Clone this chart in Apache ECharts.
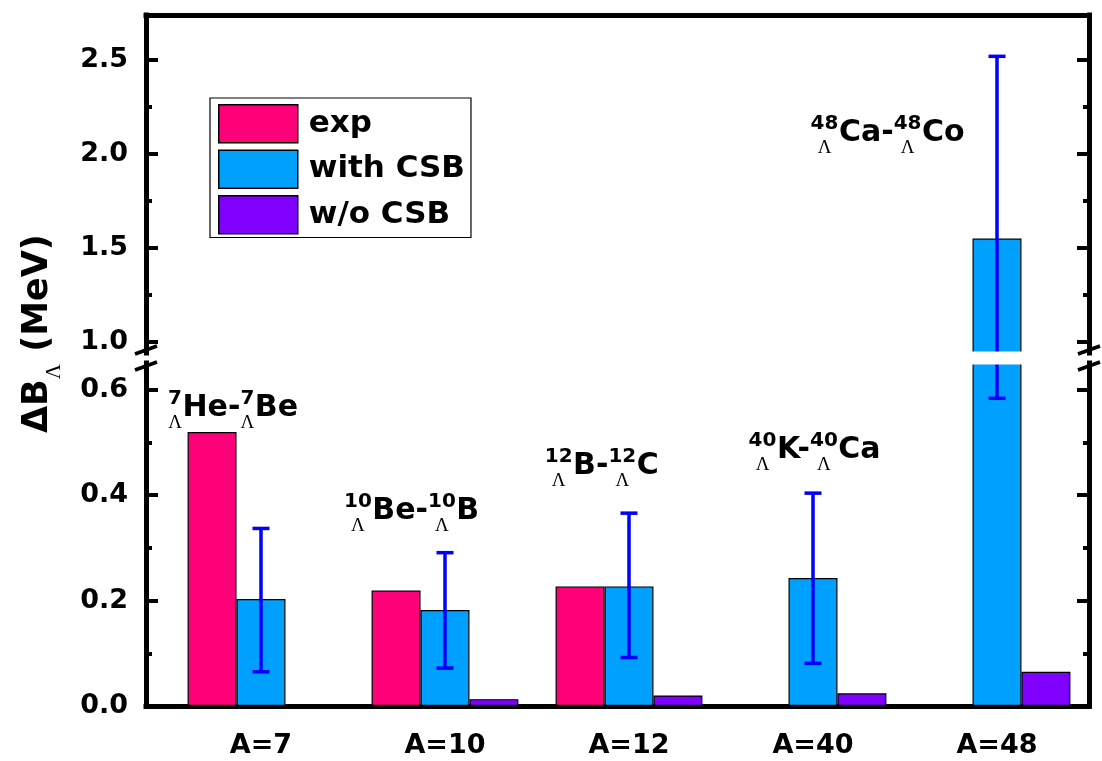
<!DOCTYPE html>
<html>
<head>
<meta charset="utf-8">
<script src="https://cdn.jsdelivr.net/npm/echarts@6/dist/echarts.min.js"></script>
<style>
  html, body { margin: 0; padding: 0; background: #fff; }
  #chart { width: 1102px; height: 761px; }
</style>
</head>
<body>
<div id="chart"></div>
<script>
// ---- data -------------------------------------------------------------
const categories = ['A=7', 'A=10', 'A=12', 'A=40', 'A=48'];
const catPos = [1, 2, 3, 4, 5];

// ΔB_Λ in MeV
const expValues      = [0.520, 0.219, 0.227, null, null];
const withCsbValues  = [0.203, 0.182, 0.227, 0.243, 1.55];
const withCsbErrLow  = [0.065, 0.072, 0.092, 0.081, 0.584];
const withCsbErrHigh = [0.337, 0.291, 0.366, 0.404, 2.52];
const woCsbValues    = [null, 0.013, 0.020, 0.024, 0.065];

// mirror-pair labels: ^A_Λ Left - ^A_Λ Right, anchored (left, baseline) in data units
const pairMass   = ['7', '10', '12', '40', '48'];
const pairLeft   = ['He', 'Be', 'B', 'K', 'Ca'];
const pairRight  = ['Be', 'B', 'C', 'Ca', 'Co'];
const pairLabelX = [0.495, 1.451, 2.542, 3.650, 3.987];
const pairLabelY = [0.547, 0.351, 0.437, 0.467, 2.058];

// broken y axis: lower and upper segments
const lowerRange = [0, 0.651];
const upperRange = [0.941, 2.74];
const lowerTicks = [0, 0.2, 0.4, 0.6];
const lowerMinor = [0.1, 0.3, 0.5];
const upperTicks = [1.0, 1.5, 2.0, 2.5];
const upperMinor = [1.25, 1.75, 2.25];
const xRange = [0.375, 5.5];

// ---- style ------------------------------------------------------------
const FONT = 'DejaVu Sans';
const SERIF = 'Liberation Serif';
const COLORS = { exp: '#ff0078', withCsb: '#00a0ff', woCsb: '#7f00ff', err: '#0000ff' };
const GRID_LEFT = 146, GRID_RIGHT = 13, GRID_GAP = 10;
const UPPER_TOP = 15, UPPER_H = 338, LOWER_BOTTOM = 55;
const AXIS_W = 5;

const measureCtx = document.createElement('canvas').getContext('2d');
function textWidth(text, size, family, weight) {
  measureCtx.font = (weight || 'normal') + ' ' + size + 'px "' + family + '"';
  return measureCtx.measureText(text).width;
}

// ---- axes -------------------------------------------------------------
function yAxisPair(grid, range, ticks, minor, side, withLabels) {
  const base = {
    type: 'value', gridIndex: grid, position: side,
    min: range[0], max: range[1],
    splitLine: { show: false }
  };
  const major = Object.assign({}, base, {
    axisLine: { show: true, lineStyle: { color: '#000', width: AXIS_W, cap: 'square' } },
    axisTick: { show: true, inside: true, length: 12, customValues: ticks,
                lineStyle: { color: '#000', width: 4 } },
    axisLabel: {
      show: withLabels, customValues: ticks, margin: 18,
      formatter: v => Number(v).toFixed(1),
      fontFamily: FONT, fontWeight: 'bold', fontSize: 27, color: '#000'
    }
  });
  const minorAxis = Object.assign({}, base, {
    axisLine: { show: false },
    axisTick: { show: true, inside: true, length: 6, customValues: minor,
                lineStyle: { color: '#000', width: 4 } },
    axisLabel: { show: false }
  });
  return [major, minorAxis];
}

const yAxes = [].concat(
  yAxisPair(0, upperRange, upperTicks, upperMinor, 'left', true),   // 0,1
  yAxisPair(0, upperRange, upperTicks, upperMinor, 'right', false), // 2,3
  yAxisPair(1, lowerRange, lowerTicks, lowerMinor, 'left', true),   // 4,5
  yAxisPair(1, lowerRange, lowerTicks, lowerMinor, 'right', false)  // 6,7
);
const Y_MAIN = [0, 4];

const xAxes = [
  {
    type: 'value', gridIndex: 0, position: 'top', min: xRange[0], max: xRange[1],
    axisLine: { show: true, lineStyle: { color: '#000', width: AXIS_W, cap: 'square' } },
    axisTick: { show: false }, axisLabel: { show: false }, splitLine: { show: false }
  },
  {
    type: 'value', gridIndex: 1, position: 'bottom', min: xRange[0], max: xRange[1],
    axisLine: { show: true, lineStyle: { color: '#000', width: AXIS_W, cap: 'square' } },
    axisTick: { show: false }, splitLine: { show: false },
    axisLabel: {
      customValues: catPos, margin: 26,
      formatter: v => categories[catPos.indexOf(Math.round(v))],
      fontFamily: FONT, fontWeight: 'bold', fontSize: 27, color: '#000'
    }
  }
];

// ---- series -----------------------------------------------------------
function toPairs(values) {
  return catPos.map((x, i) => [x, values[i] == null ? '-' : values[i]]);
}

function barSeries(name, values, color, grid) {
  return {
    type: 'bar', name: name,
    xAxisIndex: grid, yAxisIndex: Y_MAIN[grid],
    data: toPairs(values),
    barWidth: '26.6%', barGap: '0%',
    itemStyle: { color: color, borderColor: '#000', borderWidth: 1.2 },
    clip: true, silent: true, z: 2
  };
}

function errorBarSeries(grid) {
  return {
    type: 'custom', xAxisIndex: grid, yAxisIndex: Y_MAIN[grid], silent: true, z: 4,
    data: catPos.map((x, i) => [x, withCsbErrLow[i], withCsbErrHigh[i]]),
    renderItem: function (params, api) {
      const cs = params.coordSys;
      const top = cs.y, bottom = cs.y + cs.height;
      const pLow = api.coord([api.value(0), api.value(1)]);
      const pHigh = api.coord([api.value(0), api.value(2)]);
      const x = pLow[0];
      if (pHigh[1] > bottom || pLow[1] < top) return null;
      const y1 = Math.min(pLow[1], bottom), y2 = Math.max(pHigh[1], top);
      const st = { stroke: COLORS.err, lineWidth: 3.5 };
      const kids = [{ type: 'line', shape: { x1: x, y1: y1, x2: x, y2: y2 }, style: st }];
      const half = 8.5;
      if (pLow[1] <= bottom) kids.push({ type: 'line', shape: { x1: x - half, y1: pLow[1], x2: x + half, y2: pLow[1] }, style: st });
      if (pHigh[1] >= top) kids.push({ type: 'line', shape: { x1: x - half, y1: pHigh[1], x2: x + half, y2: pHigh[1] }, style: st });
      return { type: 'group', children: kids };
    }
  };
}

function pairLabelSeries(grid, range) {
  const data = [];
  pairLabelX.forEach((x, i) => {
    if (pairLabelY[i] >= range[0] && pairLabelY[i] <= range[1]) data.push([x, pairLabelY[i], i]);
  });
  return {
    type: 'custom', xAxisIndex: grid, yAxisIndex: Y_MAIN[grid], silent: true, z: 6,
    data: data,
    renderItem: function (params, api) {
      const i = api.value(2);
      const p = api.coord([api.value(0), api.value(1)]);
      const mainSize = 30, supSize = 20, subSize = 19;
      let x = p[0];
      const base = p[1];
      const kids = [];
      function text(str, px, py, size, family, weight) {
        kids.push({
          type: 'text', x: px, y: py,
          style: { text: str, fontSize: size, fontFamily: family, fontWeight: weight,
                   fill: '#000', align: 'left', verticalAlign: 'middle' }
        });
      }
      function prescript() {
        const wSup = textWidth(pairMass[i], supSize, FONT, 'bold');
        const wSub = textWidth('Λ', subSize, SERIF, 'normal');
        const w = Math.max(wSup, wSub);
        text(pairMass[i], x + (w - wSup) / 2, base - 19, supSize, FONT, 'bold');
        text('Λ', x + (w - wSub) / 2, base + 5, subSize, SERIF, 'normal');
        x += w + 0.5;
      }
      function main(str) {
        text(str, x, base - mainSize * 0.33, mainSize, FONT, 'bold');
        x += textWidth(str, mainSize, FONT, 'bold');
      }
      prescript();
      main(pairLeft[i] + '-');
      prescript();
      main(pairRight[i]);
      return { type: 'group', children: kids };
    }
  };
}

// white band and slanted marks where the value axis is broken
const axisBreakSeries = {
  type: 'custom', xAxisIndex: 1, yAxisIndex: 4, silent: true, z: 8,
  data: [[catPos[0], 0]],
  renderItem: function (params) {
    const cs = params.coordSys;
    const gapTop = cs.y - GRID_GAP, gapBottom = cs.y;
    const kids = [{
      type: 'rect',
      shape: { x: cs.x + AXIS_W, y: gapTop - 1.5, width: cs.width - 2 * AXIS_W, height: GRID_GAP + 3 },
      style: { fill: '#fff' }
    }];
    [cs.x, cs.x + cs.width].forEach(ax => {
      [gapTop - 3, gapBottom + 3].forEach(yc => {
        kids.push({
          type: 'line',
          shape: { x1: ax - 11, y1: yc + 4, x2: ax + 11, y2: yc - 4 },
          style: { stroke: '#000', lineWidth: 3.5 }
        });
      });
    });
    return { type: 'group', children: kids };
  }
};

const series = [];
[0, 1].forEach(g => {
  series.push(barSeries('exp', expValues, COLORS.exp, g));
  series.push(barSeries('with CSB', withCsbValues, COLORS.withCsb, g));
  series.push(barSeries('w/o CSB', woCsbValues, COLORS.woCsb, g));
  series.push(errorBarSeries(g));
});
series.push(pairLabelSeries(0, upperRange));
series.push(pairLabelSeries(1, lowerRange));
series.push(axisBreakSeries);

// ---- y-axis title (rotated, with subscript Λ) ---------------------------
const titleSize = 35;
const titleParts = [];
(function () {
  let x = 0;
  const t1 = 'ΔB', t2 = 'Λ', t3 = ' (MeV)';
  titleParts.push({ type: 'text', x: x, y: -titleSize * 0.33,
    style: { text: t1, fontSize: titleSize, fontFamily: FONT, fontWeight: 'bold', fill: '#000', align: 'left', verticalAlign: 'middle' } });
  x += textWidth(t1, titleSize, FONT, 'bold');
  titleParts.push({ type: 'text', x: x, y: 5,
    style: { text: t2, fontSize: 21, fontFamily: SERIF, fontWeight: 'normal', fill: '#000', align: 'left', verticalAlign: 'middle' } });
  x += textWidth(t2, 21, SERIF, 'normal');
  titleParts.push({ type: 'text', x: x, y: -titleSize * 0.33,
    style: { text: t3, fontSize: titleSize, fontFamily: FONT, fontWeight: 'bold', fill: '#000', align: 'left', verticalAlign: 'middle' } });
})();

const chart = echarts.init(document.getElementById('chart'), null, { renderer: 'canvas' });
chart.setOption({
  animation: false,
  backgroundColor: '#fff',
  grid: [
    { left: GRID_LEFT, right: GRID_RIGHT, top: UPPER_TOP, height: UPPER_H, containLabel: false },
    { left: GRID_LEFT, right: GRID_RIGHT, top: UPPER_TOP + UPPER_H + GRID_GAP, bottom: LOWER_BOTTOM, containLabel: false }
  ],
  xAxis: xAxes,
  yAxis: yAxes,
  legend: {
    data: ['exp', 'with CSB', 'w/o CSB'],
    orient: 'vertical', left: 210, top: 98,
    itemWidth: 79, itemHeight: 38, itemGap: 6,
    padding: [6, 6, 3, 8],
    borderColor: '#000', borderWidth: 1.2,
    icon: 'rect', selectedMode: false,
    itemStyle: { borderColor: '#000', borderWidth: 1.5 },
    textStyle: { fontFamily: FONT, fontWeight: 'bold', fontSize: 31, color: '#000', padding: [0, 0, 0, 6] }
  },
  graphic: [{
    type: 'group', x: 49, y: 433, rotation: Math.PI / 2,
    children: titleParts
  }],
  series: series
});
</script>
</body>
</html>
